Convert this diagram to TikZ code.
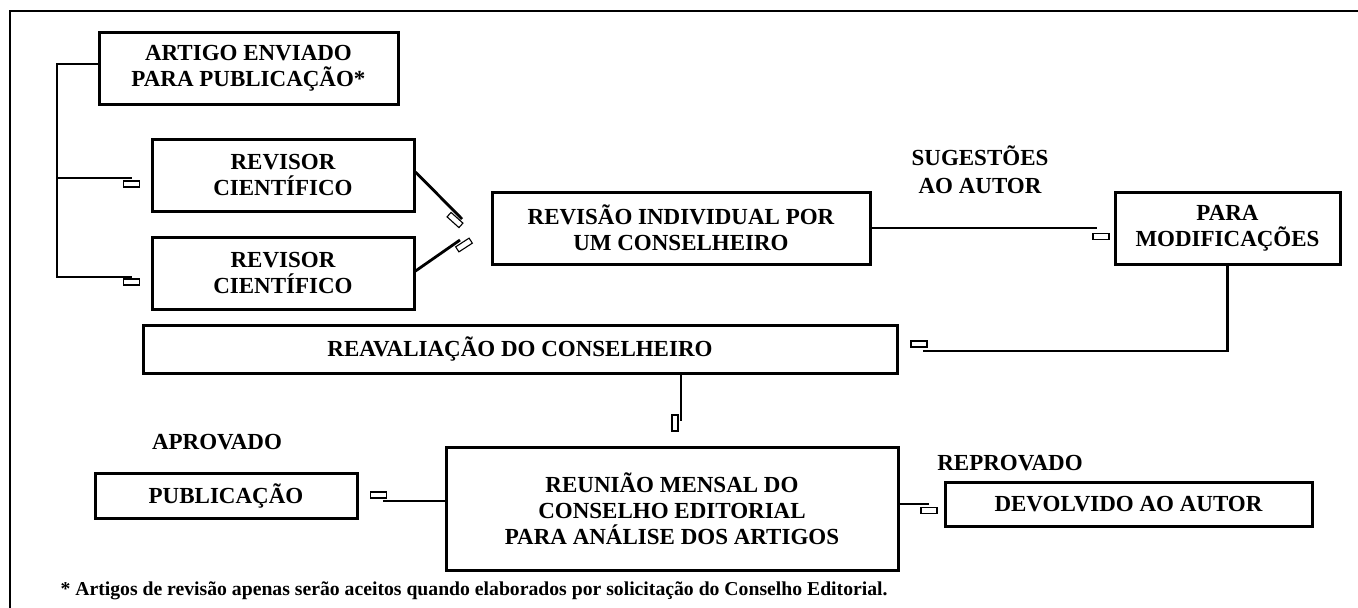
\documentclass[tikz,border=0pt]{standalone}
\usepackage{fontspec}
\setmainfont{Liberation Serif}
\usetikzlibrary{positioning}

\tikzset{
  box/.style={draw, line width=3pt, align=center, inner sep=0pt,
    font=\bfseries\fontsize{23}{26}\selectfont},
  lbl/.style={align=center, font=\bfseries\fontsize{23}{28}\selectfont},
  link/.style={line width=2.8pt},
  tipbox/.style={draw, line width=1.1pt, minimum width=16pt,
    minimum height=6pt, inner sep=0pt},
}

\begin{document}
\begin{tikzpicture}[x=1pt,y=-1pt]
    \useasboundingbox (0,0) rectangle (1358,608);
    % open frame
    \draw[link] (1358,11) -- (10,11) -- (10,608);

    % boxes
    \node[box, minimum width=299pt, minimum height=72pt] (artigo) at (248.5,68)
        {ARTIGO ENVIADO\\PARA PUBLICAÇÃO*};
    \node[box, minimum width=262pt, minimum height=72pt] (rev1) at (283,175)
        {REVISOR\\CIENTÍFICO};
    \node[box, minimum width=262pt, minimum height=72pt] (rev2) at (283,273)
        {REVISOR\\CIENTÍFICO};
    \node[box, minimum width=378pt, minimum height=72pt] (individual) at (681,228)
        {REVISÃO INDIVIDUAL POR\\UM CONSELHEIRO};
    \node[box, minimum width=225pt, minimum height=72pt] (modif) at (1227.5,228)
        {PARA\\MODIFICAÇÕES};
    \node[box, minimum width=754pt, minimum height=48pt] (reaval) at (520,349)
        {REAVALIAÇÃO DO CONSELHEIRO};
    \node[box, minimum width=452pt, minimum height=123pt] (reuniao) at (672,508.5)
        {REUNIÃO MENSAL DO\\CONSELHO EDITORIAL\\PARA ANÁLISE DOS ARTIGOS};
    \node[box, minimum width=262pt, minimum height=45pt] (public) at (226,495.5)
        {PUBLICAÇÃO};
    \node[box, minimum width=367pt, minimum height=44pt] (devolv) at (1128.5,504)
        {DEVOLVIDO AO AUTOR};

    % labels
    \node[lbl] (sugest) at (980,170) {SUGESTÕES\\AO AUTOR};
    \node[lbl] (aprov) at (217,442) {APROVADO};
    \node[lbl] (reprov) at (1010,463) {REPROVADO};
    \node[anchor=base west, font=\bfseries\fontsize{19.7}{22}\selectfont] (nota) at (57,595)
        {* Artigos de revisão apenas serão aceitos quando elaborados por solicitação do Conselho Editorial.};

    % small open tips
    \node[tipbox] (tipa) at (131.5,184) {};
    \node[tipbox] (tipb) at (131.5,282) {};
    \node[tipbox, rotate=-42] (tipc) at (455,220) {};
    \node[tipbox, rotate=33] (tipd) at (464,245) {};
    \node[tipbox] (tipe) at (1101,236.5) {};
    \node[tipbox] (tipf) at (919,344) {};
    \node[tipbox, rotate=90] (tipg) at (675,423) {};
    \node[tipbox] (tiph) at (378.5,495) {};
    \node[tipbox] (tipi) at (929,510.5) {};

    % connector ends
    \coordinate (trunk) at (57,277);
    \coordinate (ea) at (132,178);
    \coordinate (eb) at (132,277);
    \coordinate (ec) at (462,219);
    \coordinate (ed) at (460,240);
    \coordinate (ee) at (1097,228);
    \coordinate (ef) at (923,351);
    \coordinate (eg) at (681,421);
    \coordinate (eh) at (383,501);
    \coordinate (ei) at (929,504);

    % connectors
    \draw[link] ([yshift=4pt]artigo.west) -| (trunk) -- (eb);
    \draw[link] (ea -| trunk) -- (ea);
    \draw[link] ([yshift=3pt]rev1.east) -- (ec);
    \draw[link] ([yshift=2pt]rev2.east) -- (ed);
    \draw[link] (individual.east) -- (ee);
    \draw[link] (modif.south) |- (ef);
    \draw[link] (eg |- reaval.south) -- (eg);
    \draw[link] (eh -| reuniao.west) -- (eh);
    \draw[link] (ei -| reuniao.east) -- (ei);
\end{tikzpicture}
\end{document}
